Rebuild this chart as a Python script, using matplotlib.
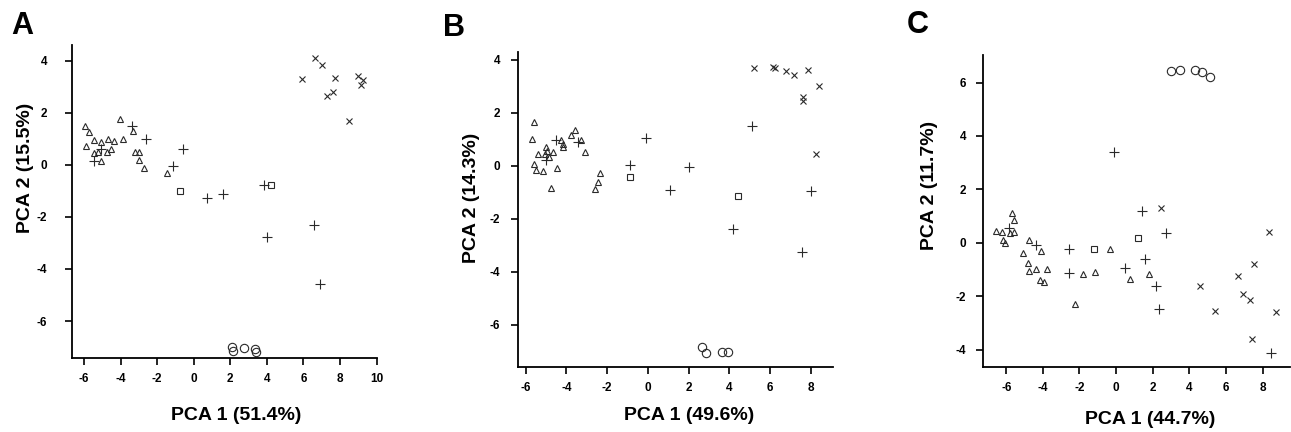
import matplotlib.pyplot as plt

plt.rcParams["font.family"] = ["Liberation Sans", "DejaVu Sans"]
plt.rcParams["font.weight"] = "bold"
plt.rcParams["axes.unicode_minus"] = False

# ---- panel A (PCA 1 51.4%, PCA 2 15.5%) ----
a_tri_x = [-5.96, -5.72, -5.91, -5.45, -5.08, -5.45, -5.23, -5.05, -4.68, -4.77,
           -4.50, -4.37, -4.04, -3.86, -3.34, -3.21, -2.98, -2.98, -2.72, -1.47]
a_tri_y = [1.50, 1.24, 0.74, 0.96, 0.87, 0.45, 0.51, 0.13, 0.99, 0.51,
           0.60, 0.90, 1.77, 0.99, 1.31, 0.51, 0.51, 0.19, -0.13, -0.32]
a_plus_x = [-5.44, -5.07, -3.39, -2.61, -1.13, -0.60, 0.70, 1.59, 3.84, 4.02, 6.59, 6.90]
a_plus_y = [0.13, 0.60, 1.50, 0.99, -0.04, 0.60, -1.27, -1.13, -0.77, -2.79, -2.31, -4.59]
a_sq_x = [-0.73, 4.25]
a_sq_y = [-0.99, -0.77]
a_cross_x = [5.93, 6.63, 6.99, 7.73, 7.28, 7.64, 8.49, 8.99, 9.24, 9.12]
a_cross_y = [3.31, 4.09, 3.82, 3.33, 2.65, 2.81, 1.67, 3.42, 3.27, 3.08]
a_circ_x = [2.09, 2.13, 2.72, 3.35, 3.39]
a_circ_y = [-6.99, -7.14, -7.05, -7.09, -7.18]

# ---- panel B (PCA 1 49.6%, PCA 2 14.3%) ----
b_tri_x = [-5.61, -5.67, -5.61, -5.51, -5.40, -5.15, -5.02, -4.95, -5.07, -4.86,
           -4.66, -4.74, -4.45, -4.25, -4.17, -4.17, -3.76, -3.60, -3.27, -3.11,
           -2.34, -2.46, -2.62]
b_tri_y = [1.65, 1.01, 0.06, -0.16, 0.44, -0.22, 0.70, 0.57, 0.44, 0.32,
           0.51, -0.85, -0.10, 0.95, 0.82, 0.70, 1.14, 1.35, 0.95, 0.53,
           -0.29, -0.63, -0.89]
b_plus_x = [-4.50, -4.99, -3.45, -0.90, -0.08, 2.00, 1.07, 5.11, 4.15, 8.00, 7.54]
b_plus_y = [0.95, 0.22, 0.89, 0.03, 1.04, -0.06, -0.91, 1.48, -2.38, -0.97, -3.25]
b_sq_x = [-0.87, 4.44]
b_sq_y = [-0.42, -1.14]
b_cross_x = [5.20, 6.15, 6.21, 6.75, 7.18, 7.84, 8.39, 7.62, 7.59, 8.25]
b_cross_y = [3.70, 3.73, 3.70, 3.57, 3.42, 3.61, 3.00, 2.59, 2.44, 0.44]
b_circ_x = [2.64, 2.87, 3.61, 3.93]
b_circ_y = [-6.86, -7.09, -7.03, -7.05]

# ---- panel C (PCA 1 44.7%, PCA 2 11.7%) ----
c_tri_x = [-6.55, -6.22, -5.69, -5.58, -5.82, -5.55, -6.18, -6.05, -4.73, -5.09,
           -4.82, -4.76, -4.40, -3.78, -4.09, -4.18, -3.96, -2.27, -1.80, -1.13,
           -0.31, 0.78, 1.82]
c_tri_y = [0.44, 0.41, 1.12, 0.87, 0.37, 0.40, 0.10, 0.00, 0.12, -0.40,
           -0.75, -1.06, -0.97, -0.97, -0.31, -1.40, -1.47, -2.28, -1.18, -1.08,
           -0.22, -1.37, -1.18]
c_plus_x = [-5.85, -4.36, -2.56, -2.55, -0.13, 1.42, 2.75, 1.60, 0.51, 2.18, 2.33, 8.47]
c_plus_y = [0.55, -0.10, -0.22, -1.12, 3.39, 1.18, 0.35, -0.60, -0.94, -1.62, -2.46, -4.11]
c_sq_x = [-1.22, 1.18]
c_sq_y = [-0.25, 0.19]
c_cross_x = [2.45, 8.36, 7.51, 6.65, 6.91, 7.33, 4.56, 5.42, 8.75, 7.42]
c_cross_y = [1.31, 0.40, -0.81, -1.25, -1.92, -2.14, -1.60, -2.56, -2.58, -3.59]
c_circ_x = [3.00, 3.47, 4.29, 4.69, 5.15]
c_circ_y = [6.42, 6.45, 6.48, 6.38, 6.21]

panels = [
    dict(letter="A", xlab="PCA 1 (51.4%)", ylab="PCA 2 (15.5%)",
         box=(72, 377, 45, 358), xlim=(-6.66, 10.02), ylim=(-7.42, 4.6),
         xticks=range(-6, 11, 2), yticks=range(-6, 5, 2),
         letter_xy=(11, 34), ylab_xy=(25, 168), xlab_xy=(236, 415), ypad=13,
         groups=[(a_tri_x, a_tri_y), (a_plus_x, a_plus_y), (a_sq_x, a_sq_y),
                 (a_cross_x, a_cross_y), (a_circ_x, a_circ_y)]),
    dict(letter="B", xlab="PCA 1 (49.6%)", ylab="PCA 2 (14.3%)",
         box=(518, 833, 52, 367), xlim=(-6.38, 9.08), ylim=(-7.6, 4.29),
         xticks=range(-6, 9, 2), yticks=range(-6, 5, 2),
         letter_xy=(443, 36), ylab_xy=(472, 198), xlab_xy=(689, 415), ypad=8,
         groups=[(b_tri_x, b_tri_y), (b_plus_x, b_plus_y), (b_sq_x, b_sq_y),
                 (b_cross_x, b_cross_y), (b_circ_x, b_circ_y)]),
    dict(letter="C", xlab="PCA 1 (44.7%)", ylab="PCA 2 (11.7%)",
         box=(983, 1290, 55, 367), xlim=(-7.27, 9.5), ylim=(-4.65, 7.03),
         xticks=range(-6, 9, 2), yticks=range(-4, 7, 2),
         letter_xy=(907, 33), ylab_xy=(930, 185), xlab_xy=(1150, 420), ypad=7,
         groups=[(c_tri_x, c_tri_y), (c_plus_x, c_plus_y), (c_sq_x, c_sq_y),
                 (c_cross_x, c_cross_y), (c_circ_x, c_circ_y)]),
]

markers = [("^", 5.0), ("+", 7.0), ("s", 4.3), ("x", 4.8), ("o", 6.0)]
mcolor = "#2a2a2a"

W, H = 1291, 432
fig = plt.figure(figsize=(W / 100, H / 100), dpi=100)

for p in panels:
    x0, x1, y0, y1 = p["box"]
    ax = fig.add_axes([x0 / W, 1 - y1 / H, (x1 - x0) / W, (y1 - y0) / H])
    for (gx, gy), (m, ms) in zip(p["groups"], markers):
        ax.plot(gx, gy, linestyle="none", marker=m, markersize=ms,
                markerfacecolor="none", markeredgecolor=mcolor,
                markeredgewidth=0.8)
    ax.set_xlim(*p["xlim"])
    ax.set_ylim(*p["ylim"])
    ax.set_xticks(list(p["xticks"]))
    ax.set_yticks(list(p["yticks"]))
    for s in ("top", "right"):
        ax.spines[s].set_visible(False)
    for s in ("left", "bottom"):
        ax.spines[s].set_linewidth(1.3)
    ax.tick_params(axis="both", direction="out", length=5, width=1.2,
                   labelsize=8.5)
    ax.tick_params(axis="x", pad=6)
    ax.tick_params(axis="y", pad=p["ypad"])
    for lab in ax.get_xticklabels() + ax.get_yticklabels():
        lab.set_fontweight("bold")

    fig.text(p["ylab_xy"][0] / W, 1 - p["ylab_xy"][1] / H, p["ylab"],
             rotation=90, ha="center", va="center", fontsize=14,
             fontweight="bold")
    fig.text(p["xlab_xy"][0] / W, 1 - p["xlab_xy"][1] / H, p["xlab"],
             ha="center", va="center", fontsize=14, fontweight="bold")
    fig.text(p["letter_xy"][0] / W, 1 - p["letter_xy"][1] / H, p["letter"],
             ha="left", va="baseline", fontsize=22, fontweight="bold")

fig.savefig("out.png", dpi=100)
